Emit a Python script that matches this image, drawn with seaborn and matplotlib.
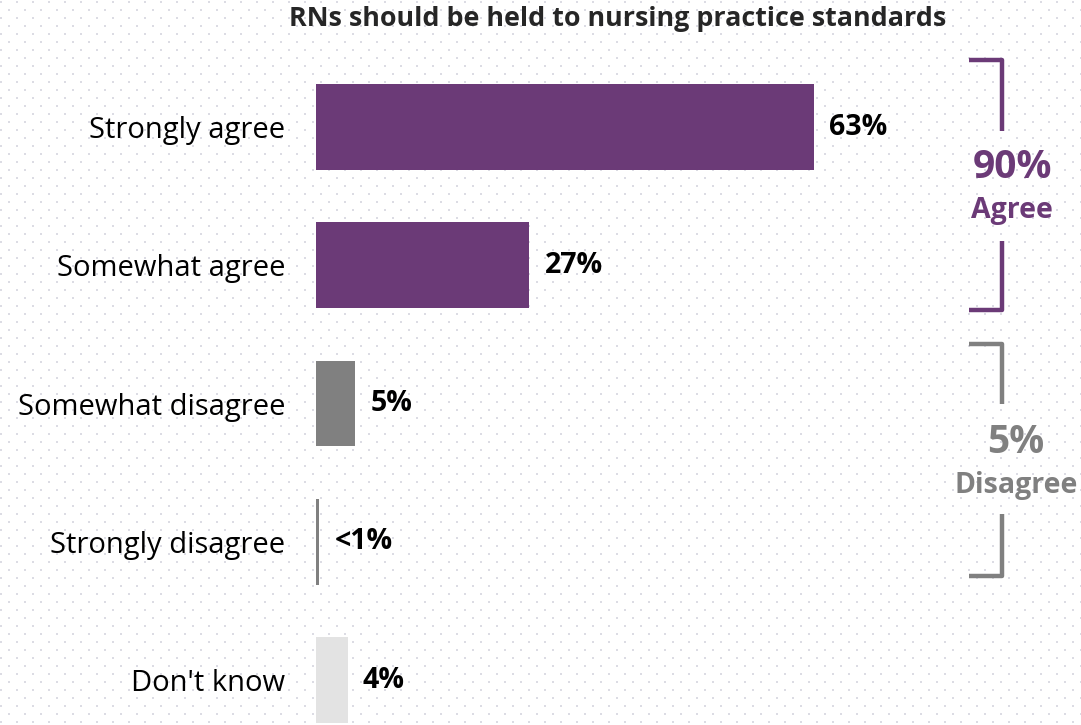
import numpy as np
import pandas as pd
import matplotlib
matplotlib.use("Agg")
import matplotlib.pyplot as plt
import seaborn as sns
from matplotlib.lines import Line2D

# Survey responses
categories = ["Strongly agree", "Somewhat agree", "Somewhat disagree",
              "Strongly disagree", "Don't know"]
shares = [63, 27, 5, 0.4, 4]
share_labels = ["63%", "27%", "5%", "<1%", "4%"]
title = "RNs should be held to nursing practice standards"

PURPLE = "#6B3A77"
GRAY = "#808080"
LIGHT = "#E3E3E3"
bar_colors = [PURPLE, PURPLE, GRAY, GRAY, LIGHT]

agree_total = round(shares[0] + shares[1])
disagree_total = round(shares[2] + shares[3])

sns.set_theme(style="white")
FONT = ["Open Sans", "DejaVu Sans"]
plt.rcParams["font.family"] = FONT

W, H = 1081, 725
fig = plt.figure(figsize=(W / 100, H / 100), dpi=100)
fig.patch.set_facecolor("white")

# dotted paper background
bg = fig.add_axes([0, 0, 1, 1], zorder=0)
bg.set_xlim(0, W)
bg.set_ylim(H, 0)
bg.axis("off")
rows = np.arange(1.7, H, 8)
xs, ys = [], []
for i, yy in enumerate(rows):
    off = 0.7 if i % 2 == 0 else 8.7
    xr = np.arange(off, W, 16)
    xs.extend(xr)
    ys.extend([yy] * len(xr))
bg.scatter(xs, ys, s=1.6, marker="s", color="#DCDCE4", linewidths=0)

# bar axes: x in percent, 7.9 px per point; category rows 138.3 px apart
left_px = 316
px_per_pct = 7.9
ax = fig.add_axes([left_px / W, 0, (W - left_px) / W, 1], zorder=1)
ax.patch.set_alpha(0)

df = pd.DataFrame({"category": categories, "share": shares})
sns.barplot(data=df, y="category", x="share", hue="category",
            palette=bar_colors, order=categories, hue_order=categories,
            orient="h", width=0.62, legend=False, saturation=1,
            linewidth=0, ax=ax)

ax.set_xlim(0, (W - left_px) / px_per_pct)
row0, step = 127, 138.3
ax.set_ylim((H - row0) / step, -row0 / step)

for cont, lab in zip(ax.containers, share_labels):
    ax.bar_label(cont, labels=[lab], padding=11, fontsize=20.5,
                 fontweight="bold", color="black", family=FONT)

ax.set_xlabel("")
ax.set_ylabel("")
ax.set_xticks([])
ax.tick_params(axis="y", length=0, pad=22, labelsize=21, labelcolor="black")
for lbl in ax.get_yticklabels():
    lbl.set_family(FONT)
for s in ax.spines.values():
    s.set_visible(False)

# title
fig.text(618 / W, 1 - 18.5 / H, title, ha="center", va="center",
         fontsize=19.4, fontweight="bold", color="#262626", family=FONT)

# group brackets
def bracket(top, bottom, gap_top, gap_bot, color):
    x0, x1 = 969, 1002
    kw = dict(color=color, lw=3.2, solid_joinstyle="round",
              solid_capstyle="butt", transform=bg.transData)
    bg.add_line(Line2D([x0, x1, x1], [top, top, gap_top], **kw))
    bg.add_line(Line2D([x0, x1, x1], [bottom, bottom, gap_bot], **kw))

bracket(60, 310, 131, 241, PURPLE)
bracket(344, 576, 404, 514, GRAY)

bg.text(1012, 167, f"{agree_total}%", ha="center", va="center",
        fontsize=28, fontweight="bold", color=PURPLE, family=FONT)
bg.text(1012, 210, "Agree", ha="center", va="center",
        fontsize=20.5, fontweight="bold", color=PURPLE, family=FONT)
bg.text(1016, 442, f"{disagree_total}%", ha="center", va="center",
        fontsize=28, fontweight="bold", color=GRAY, family=FONT)
bg.text(1016, 485, "Disagree", ha="center", va="center",
        fontsize=20.5, fontweight="bold", color=GRAY, family=FONT)

fig.savefig("out.png", dpi=100, facecolor="white")
